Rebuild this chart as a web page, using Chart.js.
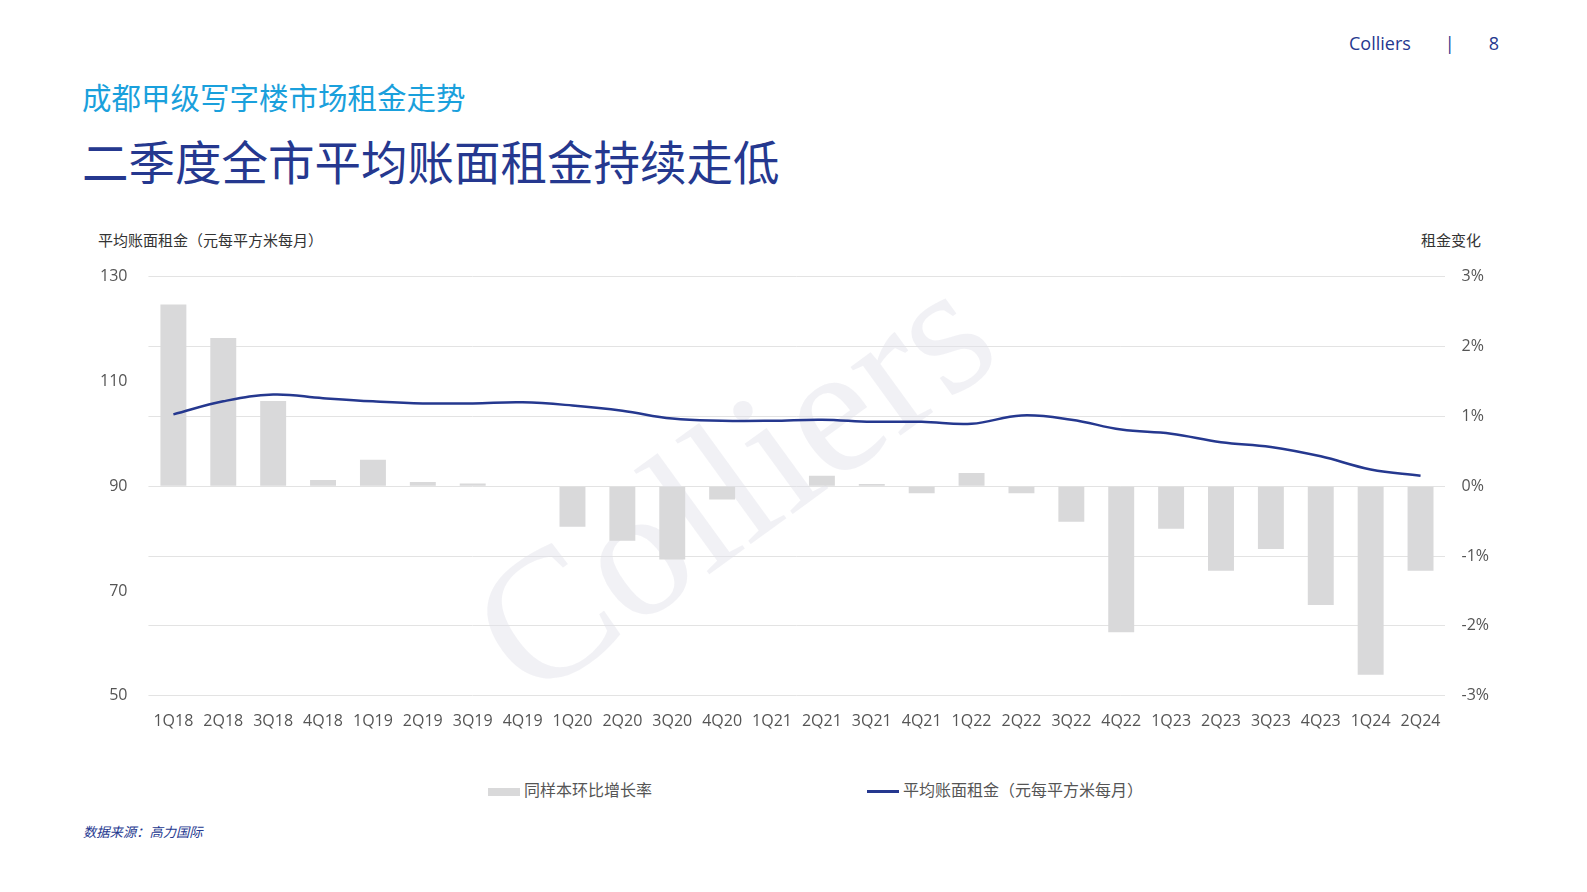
<!DOCTYPE html>
<html>
<head>
<meta charset="utf-8">
<script src="https://cdn.jsdelivr.net/npm/chart.js@4"></script>
<style>
  body { margin: 0; background: #fff; font-family: "Noto Sans CJK SC", "Noto Sans", sans-serif; }
  .page { position: relative; width: 1587px; height: 892px; }
  .brand { position: absolute; top: 31px; color: #25388f; font-size: 18px; font-family: "Open Sans", sans-serif; }
  .brand span { margin-left: 34px; }
  .sub { position: absolute; top: 75px; left: 82px; color: #1aa0dc; font-size: 29.5px; }
  .title { position: absolute; top: 126px; left: 82px; color: #25388f; font-size: 46.5px; font-weight: 400; }
  .axl { position: absolute; top: 229px; font-size: 15px; color: #333; }
  .src { position: absolute; top: 822px; left: 83px; font-size: 13.3px; color: #25388f; font-style: italic; }
  .legend { position: absolute; top: 777px; font-size: 16px; color: #555; }
  .legend i { display: inline-block; width: 32px; height: 4px; vertical-align: middle; margin-right: 4px; }
  #wrap { position: absolute; left: 73px; top: 247px; width: 1442px; height: 492px; }
</style>
</head>
<body>
<div class="page">
  <div class="brand" style="left:1349px">Colliers<span>|</span><span>8</span></div>
  <div class="sub">成都甲级写字楼市场租金走势</div>
  <div class="title">二季度全市平均账面租金持续走低</div>
  <div class="axl" style="left:98px">平均账面租金（元每平方米每月）</div>
  <div class="axl" style="left:1421px">租金变化</div>
  <div class="legend" style="left:488px"><i style="background:#d9d9da;height:8px"></i>同样本环比增长率</div>
  <div class="legend" style="left:867px"><i style="background:#25388f;height:3px"></i>平均账面租金（元每平方米每月）</div>
  <div class="src">数据来源：高力国际</div>
  <div id="wrap"><canvas id="c"></canvas></div>
</div>
<script>
const quarters = ["1Q18","2Q18","3Q18","4Q18","1Q19","2Q19","3Q19","4Q19","1Q20","2Q20","3Q20","4Q20","1Q21","2Q21","3Q21","4Q21","1Q22","2Q22","3Q22","4Q22","1Q23","2Q23","3Q23","4Q23","1Q24","2Q24"];
const qoqChange = [2.60,2.12,1.22,0.09,0.38,0.06,0.04,0,-0.58,-0.78,-1.05,-0.19,0,0.15,0.03,-0.10,0.19,-0.10,-0.51,-2.09,-0.61,-1.21,-0.90,-1.70,-2.70,-1.21];
const avgRent = [103.7,106.2,107.5,106.8,106.2,105.8,105.8,106.0,105.4,104.4,102.9,102.5,102.5,102.7,102.3,102.3,101.9,103.5,102.7,100.8,100.0,98.4,97.5,95.7,93.2,92.0];

const watermark = {
  id: "watermark",
  beforeDatasetsDraw(chart) {
    const ctx = chart.ctx;
    ctx.save();
    ctx.translate(667, 245);
    ctx.rotate(-36 * Math.PI / 180);
    ctx.font = "185px 'Liberation Serif', serif";
    ctx.fillStyle = "rgba(225,225,232,0.45)";
    ctx.textAlign = "center";
    ctx.textBaseline = "middle";
    ctx.fillText("Colliers", 0, 0);
    ctx.restore();
  }
};

new Chart(document.getElementById("c"), {
  data: {
    labels: quarters,
    datasets: [
      { type: "line", label: "平均账面租金（元每平方米每月）", data: avgRent, yAxisID: "y",
        borderColor: "#25388f", backgroundColor: "#25388f", borderWidth: 2.5, pointRadius: 0, tension: 0.4, order: 0 },
      { type: "bar", label: "同样本环比增长率", data: qoqChange, yAxisID: "y1",
        backgroundColor: "#d9d9da", barPercentage: 0.52, categoryPercentage: 1, order: 1 }
    ]
  },
  options: {
    responsive: true, maintainAspectRatio: false, animation: false,
    layout: { padding: { top: 10, right: 10 } },
    plugins: { legend: { display: false }, tooltip: { enabled: false } },
    scales: {
      x: { grid: { display: false }, border: { display: false },
        ticks: { color: "#555", padding: 8, font: { size: 16, family: "Open Sans" }, maxRotation: 0, autoSkip: false } },
      y: { position: "left", min: 50, max: 130, grid: { display: false }, border: { display: false },
        ticks: { stepSize: 20, color: "#555", padding: 20, font: { size: 16, family: "Open Sans" } },
        afterFit: s => { s.width = s.width; } },
      y1: { position: "right", min: -3, max: 3, border: { display: false },
        grid: { color: "#e3e3e3", drawTicks: false },
        ticks: { stepSize: 1, color: "#555", padding: 16, font: { size: 16, family: "Open Sans" },
          callback: v => v + "%" } }
    }
  },
  plugins: [watermark, {
    id: "leftTicks",
    beforeDraw(chart) { chart.scales.y.options.ticks.padding = 13; }
  }]
});
</script>
</body>
</html>
